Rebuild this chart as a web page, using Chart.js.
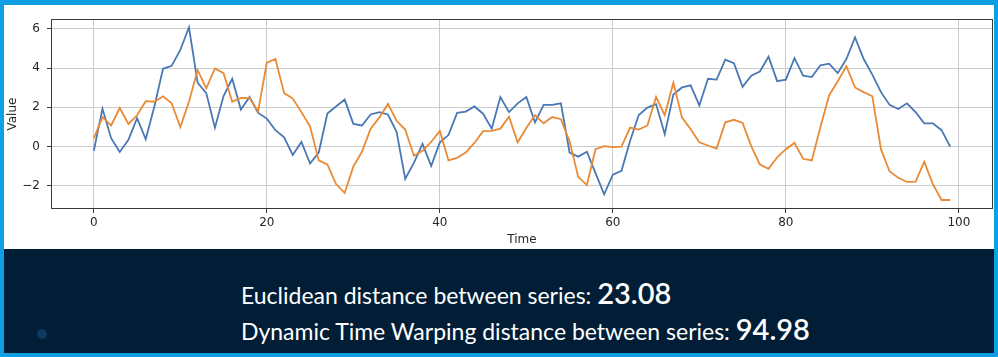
<!DOCTYPE html>
<html>
<head>
<meta charset="utf-8">
<script src="https://cdn.jsdelivr.net/npm/chart.js@4.4.1/dist/chart.umd.min.js"></script>
<style>
  html, body { margin:0; padding:0; }
  body { width:998px; height:357px; background:#109fe3; position:relative; overflow:hidden; }
  #top { position:absolute; left:4px; top:5px; width:990px; height:244px; background:#ffffff; }
  #bottom { position:absolute; left:4px; top:249px; width:990px; height:104px; background:#021e36; }
  .line { position:absolute; left:237px; white-space:nowrap; color:#ffffff; font-family:Lato, "Open Sans", sans-serif; line-height:1; }
  .lab { font-size:23px; font-weight:400; }
  .num { font-size:29px; font-weight:600; }
  #l1 { top:29px; }
  #l2 { top:65px; }
  #dot { position:absolute; left:33px; top:80px; width:10px; height:10px; border-radius:50%; background:#0f3a5f; }
</style>
</head>
<body>
<div id="top"><canvas id="c" width="990" height="244"></canvas></div>
<div id="bottom">
  <div id="dot"></div>
  <div class="line" id="l1"><span class="lab">Euclidean distance between series: </span><span class="num">23.08</span></div>
  <div class="line" id="l2"><span class="lab">Dynamic Time Warping distance between series: </span><span class="num">94.98</span></div>
</div>
<script>
const time = [0,1,2,3,4,5,6,7,8,9,10,11,12,13,14,15,16,17,18,19,20,21,22,23,24,25,26,27,28,29,30,31,32,33,34,35,36,37,38,39,40,41,42,43,44,45,46,47,48,49,50,51,52,53,54,55,56,57,58,59,60,61,62,63,64,65,66,67,68,69,70,71,72,73,74,75,76,77,78,79,80,81,82,83,84,85,86,87,88,89,90,91,92,93,94,95,96,97,98,99];

const seriesBlue = [-0.22,1.93,0.42,-0.28,0.34,1.44,0.37,2.04,3.96,4.11,4.92,6.08,3.25,2.72,0.96,2.57,3.45,1.88,2.52,1.71,
  1.42,0.83,0.46,-0.43,0.23,-0.87,-0.31,1.68,2.04,2.39,1.15,1.07,1.63,1.75,1.63,0.75,-1.65,-0.84,0.13,-1.0,
  0.21,0.58,1.71,1.78,2.04,1.67,0.91,2.52,1.75,2.2,2.52,1.23,2.12,2.12,2.2,-0.31,-0.52,-0.27,-1.36,-2.44,
  -1.44,-1.24,0.29,1.6,1.98,2.16,0.63,2.65,3.01,3.12,2.09,3.45,3.41,4.43,4.25,3.04,3.61,3.82,4.58,3.33,
  3.41,4.5,3.61,3.54,4.14,4.22,3.74,4.46,5.56,4.46,3.66,2.77,2.12,1.91,2.2,1.75,1.18,1.18,0.83,-0.01];

const seriesOrange = [0.42,1.5,1.07,1.96,1.15,1.59,2.31,2.28,2.56,2.2,0.99,2.28,3.9,2.96,3.98,3.74,2.28,2.48,2.47,1.8,
  4.27,4.46,2.72,2.44,1.75,1.02,-0.71,-0.92,-1.92,-2.37,-1.03,-0.27,0.91,1.47,2.17,1.31,0.86,-0.47,-0.22,0.23,
  0.79,-0.71,-0.58,-0.31,0.18,0.78,0.79,0.91,1.52,0.21,0.94,1.6,1.18,1.5,1.39,0.26,-1.55,-1.97,-0.14,0.02,
  -0.03,-0.01,0.96,0.86,1.07,2.52,1.6,3.25,1.47,0.88,0.21,0.05,-0.11,1.23,1.36,1.2,0.02,-0.92,-1.14,-0.55,
  -0.14,0.18,-0.63,-0.71,0.99,2.6,3.33,4.09,3.01,2.77,2.56,-0.14,-1.28,-1.6,-1.81,-1.79,-0.79,-1.92,-2.73,-2.73];

const xTicks = [0,20,40,60,80,100];
const yTicks = [-2,0,2,4,6];
const xTitle = 'Time';
const yTitle = 'Value';

const toPts = (vals) => time.map((t, i) => ({ x: t, y: vals[i] }));

const framePlugin = {
  id: 'frame',
  afterDatasetsDraw(chart) {
    const a = chart.chartArea, ctx = chart.ctx;
    ctx.save();
    ctx.strokeStyle = '#3a3a3a';
    ctx.lineWidth = 1;
    ctx.strokeRect(Math.round(a.left) + 0.5, Math.round(a.top) + 0.5, Math.round(a.right - a.left) - 1, Math.round(a.bottom - a.top) - 1);
    ctx.restore();
  }
};

const tickFont = { family: 'DejaVu Sans', size: 12 };

new Chart(document.getElementById('c'), {
  type: 'line',
  data: {
    datasets: [
      { data: toPts(seriesBlue), borderColor: '#4a78b5', borderWidth: 1.8, pointRadius: 0, tension: 0, fill: false, order: 1 },
      { data: toPts(seriesOrange), borderColor: '#e98a35', borderWidth: 1.8, pointRadius: 0, tension: 0, fill: false, order: 0 }
    ]
  },
  options: {
    responsive: false,
    animation: false,
    devicePixelRatio: 1,
    layout: { padding: { top: 3, right: 1, left: 0, bottom: 0 } },
    plugins: { legend: { display: false }, tooltip: { enabled: false } },
    scales: {
      x: {
        type: 'linear',
        min: -4.95, max: 103.95,
        afterBuildTicks: (s) => { s.ticks = xTicks.map(v => ({ value: v })); },
        afterFit: (s) => { s.height = 40; },
        ticks: { font: tickFont, color: '#262626', padding: 3, maxRotation: 0 },
        grid: { color: '#cccccc', lineWidth: 1, tickColor: '#3a3a3a', tickLength: 4, drawTicks: true },
        border: { display: false },
        title: { display: true, text: xTitle, font: tickFont, color: '#262626', padding: { top: 0, bottom: 2 } }
      },
      y: {
        type: 'linear',
        min: -3.19, max: 6.49,
        afterBuildTicks: (s) => { s.ticks = yTicks.map(v => ({ value: v })); },
        afterFit: (s) => { s.width = 47; },
        ticks: { font: tickFont, color: '#262626', padding: 7, callback: (v) => (v < 0 ? '\u2212' + Math.abs(v) : String(v)) },
        grid: { color: '#cccccc', lineWidth: 1, tickColor: '#3a3a3a', tickLength: 4, drawTicks: true },
        border: { display: false },
        title: { display: true, text: yTitle, font: tickFont, color: '#262626', padding: { top: 2, bottom: 0 } }
      }
    }
  },
  plugins: [framePlugin]
});
</script>
</body>
</html>
